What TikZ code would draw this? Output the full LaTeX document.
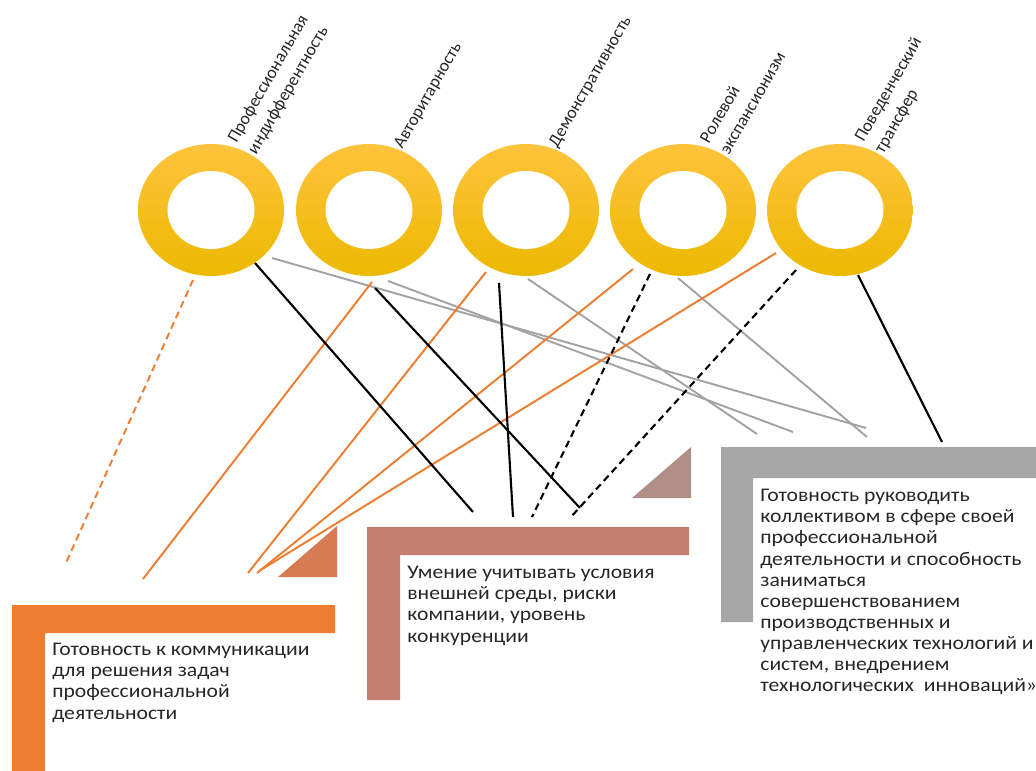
\documentclass[tikz,border=0pt]{standalone}
\usepackage{fontspec}
\setmainfont{Carlito}
\newfontfamily\skillfont[FakeStretch=1.12]{Carlito}
\usetikzlibrary{shapes.geometric, calc}

\definecolor{ringtop}{HTML}{FEC33D}
\definecolor{ringmid}{HTML}{FEC60C}
\definecolor{ringbot}{HTML}{ECB900}
\definecolor{lineorange}{HTML}{ED7D31}
\definecolor{boxorange}{HTML}{ED7D31}
\definecolor{triorange}{HTML}{D67B53}
\definecolor{boxrose}{HTML}{C47F6E}
\definecolor{trirose}{HTML}{B28E88}
\definecolor{boxgrey}{HTML}{A6A6A6}
\definecolor{linegrey}{HTML}{A3A3A3}
\definecolor{txt}{HTML}{262626}

\tikzset{
  ring/.style={ellipse, minimum width=2.92cm, minimum height=2.64cm,
    inner sep=0pt, outer sep=0pt,
    top color=ringtop, middle color=ringmid, bottom color=ringbot,
    path picture={\fill[white] (path picture bounding box.center)
      ellipse [x radius=0.87cm, y radius=0.78cm];}},
  trait/.style={rotate=60, anchor=south west, align=left, inner sep=0pt,
    font=\fontsize{10}{13}\selectfont, text=txt},
  skill/.style={anchor=north west, align=left, inner sep=0pt,
    font=\skillfont\fontsize{11}{12}\selectfont, text=txt},
  warm/.style={draw=lineorange, line width=1.1pt},
  cool/.style={draw=linegrey, line width=1.1pt},
  firm/.style={draw=black, line width=1.2pt},
  dashline/.style={dash pattern=on 4pt off 2.6pt},
}

\begin{document}
\begin{tikzpicture}[x=0.02cm, y=-0.02cm]
  \useasboundingbox (0,0) rectangle (1036,771);

  % ===== Кольца =====
  \foreach \n/\x in {1/211, 2/369, 3/526, 4/683, 5/840}
    \node[ring] (r\n) at (\x,210) {};

  % ===== Подписи =====
  \node[trait] (t1) at (259,157) {Профессиональная\\индифферентность};
  \node[trait] (t2) at (405,151) {Авторитарность};
  \node[trait] (t3) at (560,150) {Демонстративность};
  \node[trait] (t4) at (729,156) {Ролевой\\экспансионизм};
  \node[trait] (t5) at (886,156) {Поведенческий\\трансфер};

  % ===== Рамки =====
  \fill[boxorange] (12,605) -- (335,605) -- (335,633) -- (45,633) -- (45,771) -- (12,771) -- cycle;
  \fill[triorange] (278,577) -- (337,577) -- (337,526) -- cycle;
  \fill[boxrose] (367,527) -- (689,527) -- (689,555) -- (400,555) -- (400,700) -- (367,700) -- cycle;
  \fill[trirose] (632,498) -- (691,498) -- (691,447) -- cycle;
  \fill[boxgrey] (721,447) -- (1040,447) -- (1040,478) -- (753,478) -- (753,622) -- (721,622) -- cycle;

  \node[skill] (s1) at (52,643) {Готовность к коммуникации\\для решения задач\\профессиональной\\деятельности};
  \node[skill] (s2) at (407,566) {Умение учитывать условия\\внешней среды, риски\\компании, уровень\\конкуренции};
  \node[skill] (s3) at (760,489) {Готовность руководить\\коллективом в сфере своей\\профессиональной\\деятельности и способность\\заниматься\\совершенствованием\\производственных и\\управленческих технологий и\\систем, внедрением\\технологических\ \ инноваций»};

  % ===== Концы связей =====
  \coordinate (o1) at (65,565);
  \coordinate (o2) at (143,579);
  \coordinate (o3) at (248,573);
  \coordinate (o4) at (257,573);
  \coordinate (o5) at (259,571);
  \coordinate (k1) at (473,512);
  \coordinate (k2) at (580,508);
  \coordinate (k3) at (513,517);
  \coordinate (k4) at (532,517);
  \coordinate (k5) at (570,518);
  \coordinate (k6) at (942,442);
  \coordinate (g1) at (866,428);
  \coordinate (g2) at (793,432);
  \coordinate (g3) at (757,434);
  \coordinate (g4) at (867,437);

  % ===== Связи =====
  \draw[cool] ($(r1)+(61,48)$) -- (g1);
  \draw[cool] ($(r2)+(19,71)$) -- (g2);
  \draw[cool] ($(r3)+(2,69)$) -- (g3);
  \draw[cool] ($(r4)+(-5,68)$) -- (g4);
  \draw[warm, dashline] ($(r1)+(-18,70)$) -- (o1);
  \draw[warm] ($(r2)+(3,72)$) -- (o2);
  \draw[warm] ($(r3)+(-40,62)$) -- (o3);
  \draw[warm] ($(r4)+(-50,59)$) -- (o4);
  \draw[warm] ($(r5)+(-64,43)$) -- (o5);
  \draw[firm] ($(r1)+(44,53)$) -- (k1);
  \draw[firm] ($(r2)+(6,78)$) -- (k2);
  \draw[firm] ($(r3)+(-27,73)$) -- (k3);
  \draw[firm, dashline] ($(r4)+(-33,64)$) -- (k4);
  \draw[firm, dashline] ($(r5)+(-44,60)$) -- (k5);
  \draw[firm] ($(r5)+(18,65)$) -- (k6);
\end{tikzpicture}
\end{document}
